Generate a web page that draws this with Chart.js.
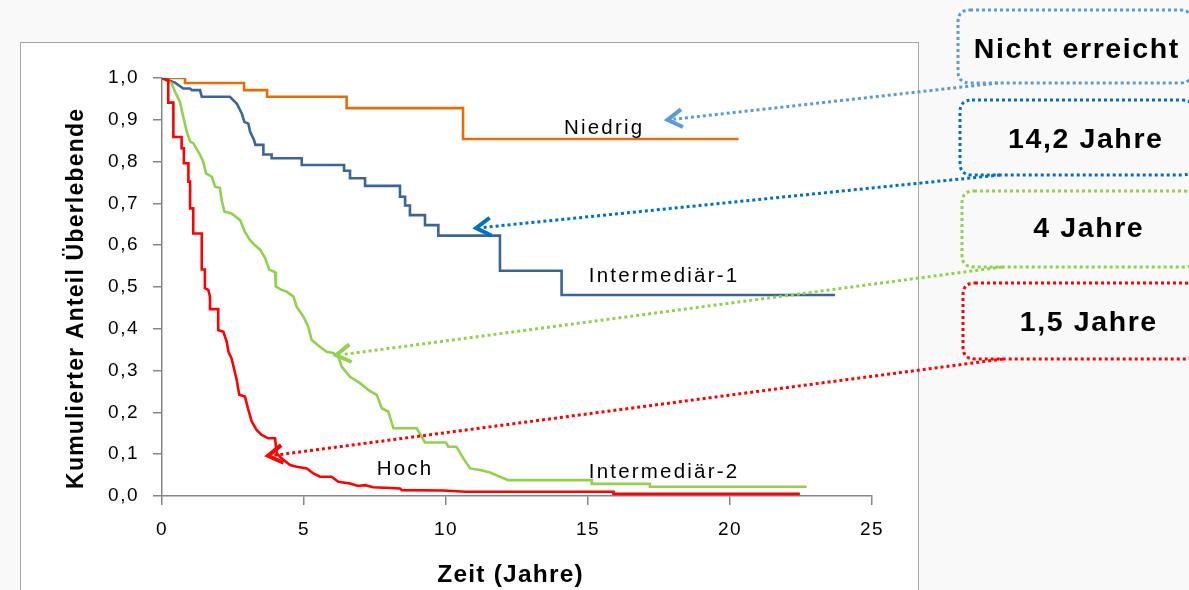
<!DOCTYPE html>
<html lang="de">
<head>
<meta charset="utf-8">
<title>Kumulierter Anteil Überlebende</title>
<script src="https://cdn.jsdelivr.net/npm/chart.js@4.4.1/dist/chart.umd.min.js"></script>
<style>
  html, body { margin: 0; padding: 0; background: #f9f9f9; }
  #wrap { position: relative; width: 1189px; height: 590px; overflow: hidden; background: #f9f9f9; }
  #frame { position: absolute; left: 20px; top: 42px; width: 899px; height: 620px;
           background: #ffffff; border: 1px solid #a6a6a6; box-sizing: border-box; }
  #c { position: absolute; left: 0; top: 0; }
</style>
</head>
<body>
<div id="wrap">
  <div id="frame"></div>
  <canvas id="c" width="1189" height="590"></canvas>
</div>
<script>
// Axis ticks
const xTicks = [0, 5, 10, 15, 20, 25];
const yTickLabels = ['0,0', '0,1', '0,2', '0,3', '0,4', '0,5', '0,6', '0,7', '0,8', '0,9', '1,0'];

// Risk groups and their median survival
const groupNames = ['Niedrig', 'Intermediär-1', 'Intermediär-2', 'Hoch'];
const medianLabels = ['Nicht erreicht', '14,2 Jahre', '4 Jahre', '1,5 Jahre'];

// Kaplan-Meier curves: time in years, cumulative proportion surviving
const niedrigT = [0, 0.81, 0.81, 2.89, 2.89, 3.70, 3.70, 6.50, 6.50, 10.60, 10.60, 20.30];
const niedrigS = [1.000, 1.000, 0.988, 0.988, 0.971, 0.971, 0.955, 0.955, 0.928, 0.928, 0.854, 0.854];

const inter1T = [0, 0.46, 0.75, 0.99, 1.05, 1.34, 1.40, 2.39, 2.63, 2.81, 2.90, 3.04, 3.10, 3.24, 3.29,
  3.57, 3.57, 3.86, 3.86, 4.92, 4.92, 6.41, 6.41, 6.62, 6.62, 7.15, 7.15, 8.38, 8.38, 8.56, 8.56,
  8.73, 8.73, 9.26, 9.26, 9.73, 9.73, 11.90, 11.90, 14.07, 14.07, 23.70];
const inter1S = [1.000, 0.989, 0.975, 0.975, 0.971, 0.971, 0.955, 0.955, 0.939, 0.915, 0.895, 0.891, 0.872, 0.852, 0.840,
  0.840, 0.817, 0.817, 0.808, 0.808, 0.792, 0.792, 0.778, 0.778, 0.760, 0.760, 0.742, 0.742, 0.716, 0.716, 0.695,
  0.695, 0.672, 0.672, 0.648, 0.648, 0.623, 0.623, 0.539, 0.539, 0.481, 0.481];

const inter2T = [0, 0.34, 0.46, 0.63, 0.75, 0.87, 0.99, 1.10, 1.34, 1.45, 1.55, 1.75, 1.87, 2.04, 2.10, 2.20,
  2.45, 2.75, 2.92, 3.10, 3.27, 3.45, 3.63, 3.78, 3.98, 4.01, 4.21, 4.39, 4.63, 4.74, 4.98, 5.15, 5.27,
  5.56, 5.80, 6.03, 6.21, 6.33, 6.62, 6.97, 7.26, 7.56, 7.74, 7.97, 8.15, 8.97, 9.26, 10.00, 10.08,
  10.37, 10.61, 10.85, 11.20, 11.55, 11.90, 12.19, 15.13, 15.13, 17.18, 17.18, 22.70];
const inter2S = [1.000, 0.987, 0.967, 0.943, 0.907, 0.872, 0.848, 0.844, 0.816, 0.800, 0.772, 0.764, 0.740, 0.737, 0.708, 0.680,
  0.676, 0.660, 0.632, 0.612, 0.600, 0.590, 0.569, 0.541, 0.536, 0.501, 0.493, 0.489, 0.477, 0.453, 0.429, 0.405, 0.373,
  0.357, 0.345, 0.342, 0.333, 0.309, 0.285, 0.270, 0.254, 0.242, 0.210, 0.202, 0.162, 0.162, 0.128, 0.128, 0.118,
  0.118, 0.090, 0.066, 0.062, 0.056, 0.046, 0.038, 0.038, 0.029, 0.029, 0.022, 0.022];

const hochT = [0, 0.18, 0.22, 0.22, 0.40, 0.40, 0.69, 0.69, 0.77, 0.77, 0.93, 0.93, 0.99, 0.99, 1.10, 1.10,
  1.40, 1.40, 1.51, 1.51, 1.63, 1.69, 1.69, 1.98, 1.98, 2.16, 2.28, 2.34, 2.45, 2.63, 2.72, 2.92, 3.04,
  3.16, 3.33, 3.51, 3.74, 3.98, 4.04, 4.21, 4.51, 4.74, 5.10, 5.33, 5.56, 5.97, 6.21, 6.62, 6.91, 7.15,
  7.44, 8.38, 8.45, 9.90, 10.70, 15.90, 15.90, 22.46];
const hochS = [1.000, 0.995, 0.995, 0.941, 0.941, 0.859, 0.859, 0.832, 0.832, 0.796, 0.796, 0.752, 0.752, 0.688, 0.688, 0.628,
  0.628, 0.542, 0.542, 0.497, 0.493, 0.477, 0.447, 0.447, 0.397, 0.393, 0.369, 0.345, 0.329, 0.278, 0.242, 0.238, 0.206,
  0.178, 0.158, 0.146, 0.138, 0.138, 0.102, 0.090, 0.074, 0.070, 0.066, 0.054, 0.046, 0.046, 0.034, 0.030, 0.024, 0.026,
  0.021, 0.018, 0.014, 0.013, 0.010, 0.010, 0.005, 0.005];

const toPoints = (t, s) => t.map((x, i) => ({ x: x, y: s[i] }));

// Styling per group (same order as groupNames)
const groupColors = ['#e46c0a', '#3c6496', '#92d050', '#ff0000'];
const calloutColors = ['#5b9bd5', '#0070c0', '#92d050', '#ff0000'];

// Curve labels (anchored in data units) and arrow tips (data units)
const curveLabelAt = [[15.53, 0.880], [17.64, 0.526], [17.64, 0.057], [8.52, 0.063]];
const arrowTipAt = [[17.80, 0.900], [11.06, 0.641], [6.13, 0.337], [3.73, 0.096]];

// Median callout boxes on the right side (pixels)
const calloutBoxes = [
  { x: 958, y: 10, w: 234, h: 73, cx: 1076, cy: 50 },
  { x: 960, y: 100, w: 234, h: 75, cx: 1085, cy: 140 },
  { x: 962, y: 191, w: 234, h: 76, cx: 1088, cy: 229 },
  { x: 963, y: 283, w: 234, h: 76, cx: 1088, cy: 323 }
];

function spacedText(ctx, str, cx, cy, font, spacing) {
  ctx.font = font;
  const chars = Array.from(str);
  const widths = chars.map(ch => ctx.measureText(ch).width);
  const total = widths.reduce((a, b) => a + b, 0) + spacing * (chars.length - 1);
  let x = cx - total / 2;
  ctx.textAlign = 'left';
  ctx.textBaseline = 'middle';
  chars.forEach((ch, i) => { ctx.fillText(ch, x, cy); x += widths[i] + spacing; });
}

function roundRect(ctx, x, y, w, h, r) {
  ctx.beginPath();
  ctx.moveTo(x + r, y);
  ctx.lineTo(x + w - r, y);
  ctx.quadraticCurveTo(x + w, y, x + w, y + r);
  ctx.lineTo(x + w, y + h - r);
  ctx.quadraticCurveTo(x + w, y + h, x + w - r, y + h);
  ctx.lineTo(x + r, y + h);
  ctx.quadraticCurveTo(x, y + h, x, y + h - r);
  ctx.lineTo(x, y + r);
  ctx.quadraticCurveTo(x, y, x + r, y);
  ctx.closePath();
}

const spacingPlugin = {
  id: 'tickSpacing',
  beforeDraw(chart) {
    if ('letterSpacing' in chart.ctx) chart.ctx.letterSpacing = '1.5px';
  }
};

const annotationPlugin = {
  id: 'kmAnnotations',
  afterDraw(chart) {
    const ctx = chart.ctx;
    const xs = chart.scales.x, ys = chart.scales.y;
    ctx.save();
    if ('letterSpacing' in ctx) ctx.letterSpacing = '0px';

    // Axis titles
    ctx.fillStyle = '#000';
    ctx.save();
    ctx.translate(77, 299);
    ctx.rotate(-Math.PI / 2);
    spacedText(ctx, 'Kumulierter Anteil Überlebende', 0, 0, 'bold 23px "Liberation Sans", Arial, sans-serif', 1.2);
    ctx.restore();
    spacedText(ctx, 'Zeit (Jahre)', 510, 575, 'bold 24.5px "Liberation Sans", Arial, sans-serif', 1.2);

    // Curve labels
    groupNames.forEach((name, i) => {
      const px = xs.getPixelForValue(curveLabelAt[i][0]);
      const py = ys.getPixelForValue(curveLabelAt[i][1]);
      spacedText(ctx, name, px, py, '20.5px "Liberation Sans", Arial, sans-serif', 2.2);
    });

    // Callout boxes with dotted arrows pointing at the curves
    calloutBoxes.forEach((b, i) => {
      const col = calloutColors[i];
      ctx.strokeStyle = col;
      ctx.lineWidth = 3;
      ctx.setLineDash([3, 3]);
      ctx.lineCap = 'butt';
      roundRect(ctx, b.x, b.y, b.w, b.h, 12);
      ctx.stroke();

      const tx = xs.getPixelForValue(arrowTipAt[i][0]);
      const ty = ys.getPixelForValue(arrowTipAt[i][1]);
      const sx = b.x + 40, sy = b.y + b.h;
      ctx.beginPath();
      ctx.moveTo(sx, sy);
      ctx.lineTo(tx + 6, ty - 0.5);
      ctx.stroke();

      // open arrowhead
      ctx.setLineDash([]);
      ctx.lineWidth = 4;
      ctx.lineJoin = 'miter';
      const ang = Math.atan2(sy - ty, sx - tx);
      const len = 17, spread = 0.55;
      ctx.beginPath();
      ctx.moveTo(tx + len * Math.cos(ang + spread), ty + len * Math.sin(ang + spread));
      ctx.lineTo(tx, ty);
      ctx.lineTo(tx + len * Math.cos(ang - spread), ty + len * Math.sin(ang - spread));
      ctx.stroke();

      ctx.fillStyle = '#000';
      spacedText(ctx, medianLabels[i], b.cx, b.cy, 'bold 28.5px "Liberation Sans", Arial, sans-serif', 1.6);
    });
    ctx.restore();
  }
};

const tickFont = { family: '"Liberation Sans", Arial, sans-serif', size: 19 };

new Chart(document.getElementById('c').getContext('2d'), {
  type: 'line',
  data: {
    datasets: [
      { label: groupNames[3], data: toPoints(hochT, hochS), borderColor: groupColors[3] },
      { label: groupNames[2], data: toPoints(inter2T, inter2S), borderColor: groupColors[2] },
      { label: groupNames[1], data: toPoints(inter1T, inter1S), borderColor: groupColors[1] },
      { label: groupNames[0], data: toPoints(niedrigT, niedrigS), borderColor: groupColors[0] }
    ]
  },
  options: {
    responsive: false,
    animation: false,
    layout: { padding: { left: 20, top: 78, right: 317, bottom: 0 } },
    elements: {
      point: { radius: 0, hoverRadius: 0 },
      line: { tension: 0, borderWidth: 2.6, fill: false, borderJoinStyle: 'miter' }
    },
    plugins: { legend: { display: false }, tooltip: { enabled: false } },
    scales: {
      x: {
        type: 'linear', min: 0, max: 25,
        afterBuildTicks: s => { s.ticks = xTicks.map(v => ({ value: v })); },
        afterFit: s => { s.height = 94; },
        ticks: { font: tickFont, color: '#000', padding: 13, maxRotation: 0 },
        grid: { drawOnChartArea: false, drawTicks: true, tickLength: 9, color: '#868686', lineWidth: 1.5 },
        border: { display: true, color: '#868686', width: 1.5 }
      },
      y: {
        type: 'linear', min: 0, max: 1,
        afterBuildTicks: s => { s.ticks = yTickLabels.map((_, i) => ({ value: i / 10 })); },
        afterFit: s => { s.width = 142; },
        ticks: { font: tickFont, color: '#000', padding: 14,
                 callback: v => yTickLabels[Math.round(v * 10)] },
        grid: { drawOnChartArea: false, drawTicks: true, tickLength: 9, color: '#868686', lineWidth: 1.5 },
        border: { display: true, color: '#868686', width: 1.5 }
      }
    }
  },
  plugins: [spacingPlugin, annotationPlugin]
});
</script>
</body>
</html>
